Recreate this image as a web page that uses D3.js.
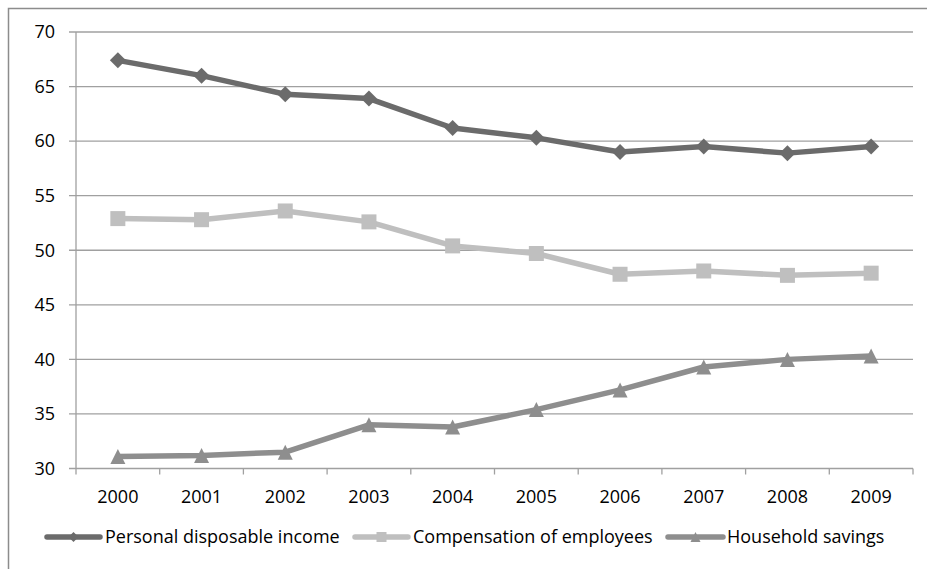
<!DOCTYPE html>
<html>
<head>
<meta charset="utf-8">
<script src="https://cdn.jsdelivr.net/npm/d3@7"></script>
<style>
  body { margin: 0; background: #fff; }
  text { font-family: "Open Sans", "Noto Sans", sans-serif; fill: #000; }
</style>
</head>
<body>
<script>
var years = ["2000", "2001", "2002", "2003", "2004", "2005", "2006", "2007", "2008", "2009"];
var disposableIncome = [67.4, 66.0, 64.3, 63.9, 61.2, 60.3, 59.0, 59.5, 58.9, 59.5];
var compensation = [52.9, 52.8, 53.6, 52.6, 50.4, 49.7, 47.8, 48.1, 47.7, 47.9];
var savings = [31.1, 31.2, 31.5, 34.0, 33.8, 35.4, 37.2, 39.3, 40.0, 40.3];
var yTicks = [30, 35, 40, 45, 50, 55, 60, 65, 70];
var seriesNames = ["Personal disposable income", "Compensation of employees", "Household savings"];

var width = 927, height = 569;
var plotLeft = 76, plotRight = 913, plotTop = 32, plotBottom = 468.5;

var svg = d3.select("body").append("svg")
    .attr("width", width)
    .attr("height", height);

// outer frame
svg.append("rect")
    .attr("x", 8.5).attr("y", 8.5)
    .attr("width", 940).attr("height", 600)
    .attr("fill", "none")
    .attr("stroke", "#8c8c8c")
    .attr("stroke-width", 1.5);

var x = d3.scaleBand().domain(years).range([plotLeft, plotRight]);
var y = d3.scaleLinear().domain([30, 70]).range([plotBottom, plotTop]);

// gridlines
svg.append("g").selectAll("line")
    .data(yTicks)
    .enter().append("line")
    .attr("x1", plotLeft - 7).attr("x2", plotRight)
    .attr("y1", function(d) { return y(d); })
    .attr("y2", function(d) { return y(d); })
    .attr("stroke", "#a0a0a0")
    .attr("stroke-width", 1.3);

// y axis line
svg.append("line")
    .attr("x1", plotLeft).attr("x2", plotLeft)
    .attr("y1", plotTop).attr("y2", plotBottom)
    .attr("stroke", "#a0a0a0")
    .attr("stroke-width", 1.3);

// x tick marks at category boundaries
var bounds = years.map(function(d) { return x(d); }).concat([plotRight]);
svg.append("g").selectAll("line")
    .data(bounds)
    .enter().append("line")
    .attr("x1", function(d) { return d; })
    .attr("x2", function(d) { return d; })
    .attr("y1", plotBottom).attr("y2", plotBottom + 6)
    .attr("stroke", "#a0a0a0")
    .attr("stroke-width", 1.3);

svg.append("g").selectAll("text")
    .data(yTicks)
    .enter().append("text")
    .attr("x", 55)
    .attr("y", function(d) { return y(d); })
    .attr("dy", "0.35em")
    .attr("text-anchor", "end")
    .attr("font-size", 18)
    .text(function(d) { return d; });

svg.append("g").selectAll("text")
    .data(years)
    .enter().append("text")
    .attr("x", function(d) { return x(d) + x.bandwidth() / 2; })
    .attr("y", 497)
    .attr("dy", "0.35em")
    .attr("text-anchor", "middle")
    .attr("font-size", 18)
    .text(function(d) { return d; });

var series = [
    { name: seriesNames[0], values: disposableIncome, color: "#6b6b6b", marker: "diamond" },
    { name: seriesNames[1], values: compensation, color: "#bfbfbf", marker: "square" },
    { name: seriesNames[2], values: savings, color: "#8e8e8e", marker: "triangle" }
];

function markerPath(type, s) {
    if (type === "diamond") return d3.symbol().type(d3.symbolSquare).size(s * s / 2)();
    if (type === "square") return d3.symbol().type(d3.symbolSquare).size(s * s)();
    return "M0," + (-s / 2) + "L" + (s / 2) + "," + (s / 2) + "L" + (-s / 2) + "," + (s / 2) + "Z";
}
function markerRotate(type) { return type === "diamond" ? " rotate(45)" : ""; }

var line = d3.line()
    .x(function(d, i) { return x(years[i]) + x.bandwidth() / 2; })
    .y(function(d) { return y(d); });

series.forEach(function(s) {
    var g = svg.append("g");
    g.append("path")
        .attr("d", line(s.values))
        .attr("fill", "none")
        .attr("stroke", s.color)
        .attr("stroke-width", 5.5)
        .attr("stroke-linejoin", "round");
    g.selectAll("path.m")
        .data(s.values)
        .enter().append("path")
        .attr("class", "m")
        .attr("d", markerPath(s.marker, s.marker === "diamond" ? 16 : 15))
        .attr("transform", function(d, i) {
            return "translate(" + (x(years[i]) + x.bandwidth() / 2) + "," + y(d) + ")" + markerRotate(s.marker);
        })
        .attr("fill", s.color);
});

// legend
var legendItems = [
    { x1: 47, x2: 100, tx: 105 },
    { x1: 355, x2: 408, tx: 413 },
    { x1: 668, x2: 723, tx: 727 }
];
var ly = 537;
series.forEach(function(s, i) {
    var li = legendItems[i];
    svg.append("line")
        .attr("x1", li.x1).attr("x2", li.x2)
        .attr("y1", ly).attr("y2", ly)
        .attr("stroke", s.color)
        .attr("stroke-width", 5.5)
        .attr("stroke-linecap", "round");
    svg.append("path")
        .attr("d", markerPath(s.marker, 10))
        .attr("transform", "translate(" + ((li.x1 + li.x2) / 2) + "," + ly + ")" + markerRotate(s.marker))
        .attr("fill", s.color);
    svg.append("text")
        .attr("x", li.tx)
        .attr("y", ly)
        .attr("dy", "0.35em")
        .attr("font-size", 18)
        .text(s.name);
});
</script>
</body>
</html>
